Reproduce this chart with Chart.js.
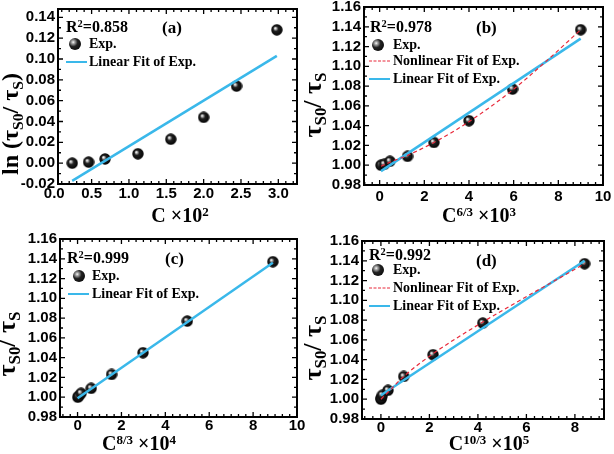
<!DOCTYPE html>
<html>
<head>
<meta charset="utf-8">
<script src="https://cdn.jsdelivr.net/npm/chart.js@4.4.1/dist/chart.umd.min.js"></script>
<style>
body { margin: 0; background: #fff; }
#wrap { position: relative; width: 614px; height: 454px; overflow: hidden; background: #fff; }
canvas { position: absolute; }
.t { position: absolute; font-family: "Liberation Serif", "Times New Roman", serif; font-weight: bold; white-space: nowrap; line-height: 1; color: #000; }
.c { transform: translate(-50%, -50%); }
.r { transform: translate(-50%, -50%) rotate(-90deg); }
.m { transform: translateY(-50%); }
.t sub, .t sup { font-size: 65%; line-height: 0; position: relative; vertical-align: baseline; }
.t sup { top: -0.5em; }
.t sub { top: 0.3em; }
.lg { position: absolute; transform: translateY(-50%); }
.ball { width: 12px; height: 12px; border-radius: 50%; background: radial-gradient(circle at 35% 35%, #fff 0, #bbb 10%, #222 40%, #000 100%); }
.cy { width: 21px; height: 0; border-top: 2.5px solid #3ab8ea; }
.rd { width: 21px; height: 0; border-top: 1.3px dashed #e8283a; }
</style>
</head>
<body>
<div id="wrap">
  <canvas id="ca" width="307" height="227" style="left:0;top:0"></canvas>
  <canvas id="cb" width="307" height="227" style="left:307px;top:0"></canvas>
  <canvas id="cc" width="307" height="227" style="left:0;top:227px"></canvas>
  <canvas id="cd" width="307" height="227" style="left:307px;top:227px"></canvas>

  <!-- (a) -->
  <div class="t m" style="left:66px;top:27px;font-size:16px">R<sup>2</sup>=0.858</div>
  <div class="t m" style="left:162px;top:27px;font-size:17px">(a)</div>
  <div class="lg ball" style="left:69px;top:44px"></div>
  <div class="t m" style="left:89px;top:44px;font-size:14px">Exp.</div>
  <div class="lg cy" style="left:66px;top:62px"></div>
  <div class="t m" style="left:89px;top:62px;font-size:14px">Linear Fit of Exp.</div>
  <div class="t r" style="left:10px;top:124px;font-size:24px">ln (τ<sub>S0</sub>/ τ<sub>S</sub>)</div>
  <div class="t c" style="left:180px;top:215px;font-size:20px">C ×10<sup>2</sup></div>

  <!-- (b) -->
  <div class="t m" style="left:370px;top:27px;font-size:16px">R<sup>2</sup>=0.978</div>
  <div class="t m" style="left:476px;top:27px;font-size:17px">(b)</div>
  <div class="lg ball" style="left:372px;top:45px"></div>
  <div class="t m" style="left:393px;top:45px;font-size:14px">Exp.</div>
  <div class="lg rd" style="left:369px;top:61px"></div>
  <div class="t m" style="left:393px;top:61px;font-size:14px">Nonlinear Fit of Exp.</div>
  <div class="lg cy" style="left:369px;top:79px"></div>
  <div class="t m" style="left:393px;top:79px;font-size:14px">Linear Fit of Exp.</div>
  <div class="t r" style="left:313px;top:105px;font-size:26px">τ<sub>S0</sub>/ τ<sub>S</sub></div>
  <div class="t c" style="left:479px;top:215px;font-size:20px">C<sup>6/3</sup> ×10<sup>3</sup></div>

  <!-- (c) -->
  <div class="t m" style="left:67px;top:258px;font-size:16px">R<sup>2</sup>=0.999</div>
  <div class="t m" style="left:165px;top:258px;font-size:17px">(c)</div>
  <div class="lg ball" style="left:73px;top:276px"></div>
  <div class="t m" style="left:92px;top:276px;font-size:14px">Exp.</div>
  <div class="lg cy" style="left:68px;top:294px"></div>
  <div class="t m" style="left:92px;top:294px;font-size:14px">Linear Fit of Exp.</div>
  <div class="t r" style="left:7px;top:344px;font-size:26px">τ<sub>S0</sub>/ τ<sub>S</sub></div>
  <div class="t c" style="left:139px;top:443px;font-size:20px">C<sup>8/3</sup> ×10<sup>4</sup></div>

  <!-- (d) -->
  <div class="t m" style="left:369px;top:255px;font-size:16px">R<sup>2</sup>=0.992</div>
  <div class="t m" style="left:476px;top:260px;font-size:17px">(d)</div>
  <div class="lg ball" style="left:372px;top:270px"></div>
  <div class="t m" style="left:393px;top:270px;font-size:14px">Exp.</div>
  <div class="lg rd" style="left:369px;top:288px"></div>
  <div class="t m" style="left:393px;top:288px;font-size:14px">Nonlinear Fit of Exp.</div>
  <div class="lg cy" style="left:369px;top:306px"></div>
  <div class="t m" style="left:393px;top:306px;font-size:14px">Linear Fit of Exp.</div>
  <div class="t r" style="left:313px;top:348px;font-size:26px">τ<sub>S0</sub>/ τ<sub>S</sub></div>
  <div class="t c" style="left:489px;top:443px;font-size:20px">C<sup>10/3</sup> ×10<sup>5</sup></div>
</div>

<script>
// measured ratio tau_S0 / tau_S (same for b, c, d)
var ratioY = [1.000, 1.001, 1.004, 1.009, 1.023, 1.045, 1.077, 1.137];

// (a) ln(tS0/tS) vs C x10^2
var cX = [0.24, 0.46, 0.68, 1.12, 1.56, 2.0, 2.44, 2.98];
var lnY = [0.000, 0.001, 0.004, 0.009, 0.023, 0.044, 0.074, 0.128];
var linAX = [0.24, 2.98];
var linAY = [-0.017, 0.103];

// (b) vs C^(6/3) x10^3
var c63X = [0.06, 0.21, 0.46, 1.25, 2.43, 4.0, 5.95, 9.0];
var nlBX = [0.06, 0.46, 1.25, 2.43, 4.0, 5.95, 7.4, 9.0];
var nlBY = [0.999, 1.003, 1.010, 1.023, 1.044, 1.076, 1.104, 1.137];
var linBX = [0.06, 9.0];
var linBY = [0.994, 1.128];

// (c) vs C^(8/3) x10^4
var c83X = [0.01, 0.05, 0.16, 0.62, 1.55, 2.98, 5.0, 8.9];
var linCX = [0.0, 8.9];
var linCY = [0.999, 1.136];

// (d) vs C^(10/3) x10^5
var c103X = [0.0, 0.01, 0.06, 0.29, 0.94, 2.15, 4.2, 8.4];
var nlDX = [0.0, 0.29, 0.94, 2.15, 4.2, 8.4];
var nlDY = [1.000, 1.007, 1.023, 1.046, 1.078, 1.137];
var linDX = [0.0, 8.4];
var linDY = [1.004, 1.140];

// tick labels
var ticksAX = [0, 0.5, 1.0, 1.5, 2.0, 2.5, 3.0];
var ticksAY = [-0.02, 0, 0.02, 0.04, 0.06, 0.08, 0.10, 0.12, 0.14];
var ticksX10 = [0, 2, 4, 6, 8, 10];
var ticksX8 = [0, 2, 4, 6, 8];
var ticksRatio = [0.98, 1.00, 1.02, 1.04, 1.06, 1.08, 1.10, 1.12, 1.14, 1.16];

Chart.defaults.font.family = '"Liberation Sans", Arial, sans-serif';
Chart.defaults.font.size = 15;
Chart.defaults.font.weight = 'bold';
Chart.defaults.color = '#000';

function xy(xs, ys) {
    return xs.map(function (x, i) { return { x: x, y: ys[i] }; });
}

// shaded ball used as point marker
function ball(d) {
    var c = document.createElement('canvas');
    c.width = c.height = d;
    var g = c.getContext('2d');
    var r = d / 2;
    var grd = g.createRadialGradient(r * 0.7, r * 0.7, 0.2, r, r, r);
    grd.addColorStop(0, '#fff');
    grd.addColorStop(0.12, '#ccc');
    grd.addColorStop(0.4, '#222');
    grd.addColorStop(1, '#000');
    g.fillStyle = grd;
    g.beginPath();
    g.arc(r, r, r - 0.3, 0, Math.PI * 2);
    g.fill();
    return c;
}
var ballImg = ball(12);

function pts(xs, ys) {
    return { data: xy(xs, ys), showLine: false, pointStyle: ballImg, pointRadius: 6, order: 2 };
}
function linFit(xs, ys) {
    return { data: xy(xs, ys), showLine: true, borderColor: '#3ab8ea', borderWidth: 2.5, pointRadius: 0, order: 1 };
}
function nlFit(xs, ys) {
    return { data: xy(xs, ys), showLine: true, borderColor: '#e8283a', borderWidth: 1.2, borderDash: [4, 3], cubicInterpolationMode: 'monotone', pointRadius: 0, order: 0 };
}

// inward ticks on all four sides + frame
function sideTicks(ctx, s, major, sub, a, horiz) {
    var step = major / sub;
    var start = Math.ceil(s.min / step - 1e-6);
    for (var i = start; i * step <= s.max + 1e-9; i++) {
        var p = s.getPixelForValue(i * step);
        var len = (Math.round(i) % sub === 0) ? 5 : 3;
        ctx.beginPath();
        if (horiz) {
            ctx.moveTo(p, a.bottom); ctx.lineTo(p, a.bottom - len);
            ctx.moveTo(p, a.top); ctx.lineTo(p, a.top + len);
        } else {
            ctx.moveTo(a.left, p); ctx.lineTo(a.left + len, p);
            ctx.moveTo(a.right, p); ctx.lineTo(a.right - len, p);
        }
        ctx.stroke();
    }
}
var frame = {
    id: 'frame',
    beforeDatasetsDraw: function (chart) {
        var a = chart.chartArea, ctx = chart.ctx, o = chart.options.plugins.frame;
        ctx.save();
        ctx.strokeStyle = '#000';
        ctx.lineWidth = 1.3;
        sideTicks(ctx, chart.scales.x, o.xMajor, o.xSub, a, true);
        sideTicks(ctx, chart.scales.y, o.yMajor, o.ySub, a, false);
        ctx.lineWidth = 2;
        ctx.strokeRect(a.left, a.top, a.right - a.left, a.bottom - a.top);
        ctx.restore();
    }
};

function panel(id, p) {
    return new Chart(document.getElementById(id), {
        type: 'scatter',
        data: { datasets: p.sets },
        options: {
            responsive: false,
            animation: false,
            devicePixelRatio: 1,
            layout: { padding: { left: 0, top: p.box[1], right: 307 - p.box[2], bottom: 0 } },
            plugins: {
                legend: { display: false },
                tooltip: { enabled: false },
                frame: { xMajor: p.xMajor, xSub: p.xSub, yMajor: 0.02, ySub: 2 }
            },
            scales: {
                x: {
                    type: 'linear', min: p.x[0], max: p.x[1],
                    grid: { display: false, drawTicks: false },
                    border: { display: false },
                    ticks: { padding: p.xPad, autoSkip: false, maxRotation: 0, callback: p.xFmt },
                    afterBuildTicks: function (s) { s.ticks = p.xt.map(function (v) { return { value: v }; }); },
                    afterFit: function (s) { s.height = 227 - p.box[3]; s.paddingLeft = 0; s.paddingRight = 0; }
                },
                y: {
                    type: 'linear', min: p.y[0], max: p.y[1],
                    grid: { display: false, drawTicks: false },
                    border: { display: false },
                    ticks: { padding: 3, autoSkip: false, callback: function (v) { return v.toFixed(2); } },
                    afterBuildTicks: function (s) { s.ticks = p.yt.map(function (v) { return { value: v }; }); },
                    afterFit: function (s) { s.width = p.box[0]; s.paddingTop = 0; s.paddingBottom = 0; }
                }
            }
        },
        plugins: [frame]
    });
}

function fmt1(v) { return v.toFixed(1); }
function fmt0(v) { return String(Math.round(v)); }

panel('ca', {
    box: [58, 9, 297, 184], x: [0.05, 3.25], y: [-0.02, 0.148],
    xt: ticksAX, yt: ticksAY, xFmt: fmt1, xPad: 1, xMajor: 0.5, xSub: 5,
    sets: [pts(cX, lnY), linFit(linAX, linAY)]
});
panel('cb', {
    box: [57, 6, 296, 185], x: [-0.7, 10], y: [0.98, 1.16],
    xt: ticksX10, yt: ticksRatio, xFmt: fmt0, xPad: 3, xMajor: 2, xSub: 6,
    sets: [pts(c63X, ratioY), nlFit(nlBX, nlBY), linFit(linBX, linBY)]
});
panel('cc', {
    box: [60, 12, 297, 190], x: [-0.8, 10], y: [0.98, 1.16],
    xt: ticksX10, yt: ticksRatio, xFmt: fmt0, xPad: 0, xMajor: 2, xSub: 6,
    sets: [pts(c83X, ratioY), linFit(linCX, linCY)]
});
panel('cd', {
    box: [55, 14, 297, 192], x: [-0.78, 9.2], y: [0.98, 1.16],
    xt: ticksX8, yt: ticksRatio, xFmt: fmt0, xPad: 0, xMajor: 2, xSub: 6,
    sets: [pts(c103X, ratioY), nlFit(nlDX, nlDY), linFit(linDX, linDY)]
});
</script>
</body>
</html>
